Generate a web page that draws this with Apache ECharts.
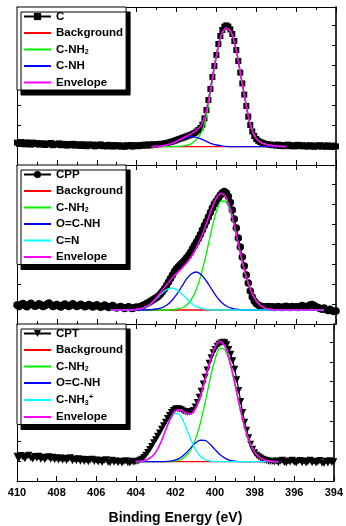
<!DOCTYPE html>
<html>
<head>
<meta charset="utf-8">
<script src="https://cdn.jsdelivr.net/npm/echarts@6/dist/echarts.min.js"></script>
<style>
html,body{margin:0;padding:0;background:#fff;}
#chart{width:346px;height:526px;}
</style>
</head>
<body>
<div id="chart"></div>
<script>
// ---------- x axis ticks ----------
const xTicks = [410, 408, 406, 404, 402, 400, 398, 396, 394];
const xTitle = 'Binding Energy (eV)';

// ---------- measured data (410 -> 394 eV, 0.1 eV steps) ----------
const dataStart = 410, dataStep = 0.1;

const dataC = [
 1.12,1.05,1.15,1.08,1.03,1.13,1.07,1.02,1.12,1.05,
 1.10,1.02,1.09,1.04,1.00,1.08,1.03,1.10,0.99,1.06,
 1.02,1.08,0.99,1.06,1.01,0.97,1.05,0.99,1.06,0.97,
 1.04,0.98,0.95,1.04,0.99,0.94,1.03,0.97,1.02,0.93,
 1.01,0.96,1.03,0.94,0.99,0.93,1.01,0.95,0.92,1.00,
 0.94,0.99,0.92,0.97,0.91,0.99,0.94,1.00,0.92,0.97,
 0.99,0.94,1.00,0.96,1.02,0.97,1.03,0.98,1.04,1.00,
 1.03,1.04,1.06,1.05,1.08,1.10,1.12,1.15,1.18,1.21,
 1.25,1.29,1.32,1.36,1.39,1.43,1.47,1.50,1.55,1.60,
 1.67,1.75,1.85,2.02,2.33,2.75,3.25,3.80,4.40,4.95,
 5.50,6.05,6.45,6.75,6.92,6.98,6.92,6.78,6.55,6.20,
 5.75,5.20,4.62,4.08,3.52,2.95,2.42,2.00,1.68,1.45,
 1.30,1.21,1.15,1.11,1.07,1.05,1.03,1.02,0.99,1.01,
 0.97,1.02,0.95,1.00,0.94,0.99,1.02,0.94,0.99,0.93,
 0.98,1.01,0.94,0.99,0.93,0.98,0.92,0.99,0.95,0.91,
 0.98,0.93,0.99,0.92,0.97,0.91,0.98,0.94,0.90,0.97,
 0.93
];

const dataCPP = [
 0.95,0.88,0.98,1.02,0.92,0.86,0.97,1.04,0.95,0.89,
 0.93,1.01,0.96,0.87,0.91,0.99,1.05,0.96,0.88,0.92,
 0.98,0.90,0.85,0.94,1.00,0.93,0.87,0.95,1.01,0.94,
 0.88,0.92,0.99,0.93,0.86,0.90,0.97,0.92,0.85,0.91,
 0.96,0.89,0.84,0.90,0.95,0.88,0.83,0.87,0.92,0.85,
 0.80,0.84,0.88,0.82,0.78,0.83,0.86,0.80,0.77,0.82,
 0.85,0.83,0.88,0.92,0.96,1.02,1.08,1.14,1.20,1.26,
 1.32,1.40,1.50,1.62,1.76,1.92,2.10,2.28,2.45,2.62,
 2.76,2.88,2.98,3.08,3.18,3.30,3.42,3.58,3.76,3.92,
 4.10,4.28,4.48,4.70,4.92,5.12,5.35,5.58,5.80,6.00,
 6.15,6.30,6.45,6.56,6.62,6.55,6.38,6.08,5.70,5.25,
 4.80,4.30,3.85,3.35,2.90,2.45,2.05,1.65,1.35,1.15,
 1.02,0.95,0.90,0.88,0.86,0.85,0.87,0.84,0.86,0.83,
 0.85,0.88,0.84,0.82,0.86,0.89,0.85,0.83,0.87,0.84,
 0.86,0.83,0.88,0.92,0.87,0.84,0.90,0.95,0.98,0.92,
 0.86,0.82,0.78,0.74,0.80,0.72,0.68,0.74,0.66,0.62,
 0.65
];

const dataCPT = [
 1.25,1.15,1.28,1.19,1.12,1.24,1.29,1.16,1.11,1.23,
 1.14,1.24,1.10,1.20,1.08,1.18,1.22,1.09,1.19,1.07,
 1.17,1.06,1.16,1.04,1.14,1.03,1.12,1.17,1.02,1.11,
 1.02,1.12,0.99,1.09,0.98,1.08,0.97,1.06,1.10,0.98,
 1.06,0.95,1.05,0.93,1.03,1.07,0.94,0.92,1.04,0.94,
 1.01,0.92,0.99,0.91,0.98,1.02,0.92,0.90,0.99,0.94,
 0.98,1.00,1.04,1.10,1.18,1.30,1.44,1.58,1.74,1.92,
 2.08,2.25,2.42,2.60,2.78,2.96,3.14,3.30,3.45,3.55,
 3.62,3.64,3.62,3.58,3.52,3.48,3.46,3.47,3.50,3.55,
 3.72,3.95,4.22,4.52,4.88,5.22,5.58,5.92,6.20,6.45,
 6.62,6.78,6.88,6.95,6.98,6.96,6.85,6.62,6.38,6.05,
 5.62,5.10,4.55,4.00,3.45,2.95,2.55,2.18,1.85,1.60,
 1.42,1.30,1.22,1.16,1.10,1.06,1.03,1.00,0.98,1.00,
 0.95,1.01,0.92,0.99,1.04,0.93,0.91,1.01,0.95,1.05,
 0.94,0.90,0.99,1.03,0.92,1.01,0.91,0.97,1.04,0.92,
 1.00,0.90,0.96,1.03,0.91,0.88,0.99,0.91,1.02,0.93,
 0.97
];

// ---------- fitted curves, panel 1 (C) ----------
const fit1E = [403.25,403.0,402.75,402.5,402.25,402.0,401.75,401.5,401.25,401.0,400.75,400.5,400.25,400.0,
               399.75,399.5,399.25,399.0,398.75,398.5,398.25,398.0,397.75,397.5,397.25,397.0,396.75,396.5];
const bg1E = [403.25, 396.5];
const bg1 = [0.92, 0.92];
const nh2_1 = [0.92,0.92,0.92,0.92,0.92,0.93,0.94,0.98,1.07,1.28,1.63,2.46,3.90,5.37,
               6.49,6.84,6.62,5.72,4.33,2.95,1.85,1.32,1.12,1.03,0.98,0.95,0.93,0.92];
const nh_1  = [0.92,0.93,0.96,1.00,1.07,1.18,1.29,1.38,1.42,1.38,1.29,1.18,1.07,1.00,
               0.96,0.93,0.92,0.92,0.92,0.92,0.92,0.92,0.92,0.92,0.92,0.92,0.92,0.92];
const env1  = [0.92,0.93,0.96,1.00,1.07,1.19,1.31,1.44,1.57,1.74,2.00,2.72,4.05,5.45,
               6.53,6.85,6.62,5.72,4.33,2.95,1.85,1.32,1.12,1.03,0.98,0.95,0.93,0.92];

// ---------- fitted curves, panel 2 (CPP) ----------
const fit2E = [405.3,404.5,404.25,404.0,403.75,403.5,403.25,403.0,402.75,402.5,402.25,402.0,401.75,401.5,
               401.25,401.0,400.75,400.5,400.25,400.0,399.75,399.5,399.25,399.0,398.75,398.5,398.25,398.0,
               397.75,397.5,397.25,397.0,396.5,395.5,394.6];
const bg2E = [405.3, 394.6];
const bg2 = [0.70, 0.70];
const nh2_2 = [0.70,0.70,0.70,0.70,0.70,0.70,0.70,0.70,0.70,0.70,0.71,0.74,0.80,0.94,
               1.23,1.75,2.52,3.54,4.66,5.62,6.15,6.09,5.45,4.44,3.32,2.34,1.62,1.16,
               0.90,0.78,0.73,0.71,0.70,0.70,0.70];
const ocnh_2 = [0.70,0.70,0.70,0.70,0.70,0.71,0.72,0.75,0.81,0.94,1.15,1.47,1.85,2.24,
               2.51,2.60,2.46,2.15,1.76,1.38,1.09,0.90,0.79,0.74,0.71,0.70,0.70,0.70,
               0.70,0.70,0.70,0.70,0.70,0.70,0.70];
const cn_2  = [0.70,0.70,0.71,0.73,0.78,0.87,1.04,1.27,1.52,1.72,1.80,1.72,1.52,1.27,
               1.04,0.87,0.78,0.73,0.71,0.70,0.70,0.70,0.70,0.70,0.70,0.70,0.70,0.70,
               0.70,0.70,0.70,0.70,0.70,0.70,0.70];
const env2  = [0.70,0.70,0.71,0.73,0.78,0.88,1.06,1.32,1.63,1.96,2.26,2.53,2.77,3.05,
               3.38,3.82,4.36,5.02,5.73,6.30,6.54,6.29,5.54,4.48,3.33,2.34,1.62,1.16,
               0.90,0.78,0.73,0.71,0.70,0.70,0.70];

// ---------- fitted curves, panel 3 (CPT) ----------
const fit3E = [404.0,403.75,403.5,403.25,403.0,402.75,402.5,402.25,402.0,401.75,401.5,401.25,401.0,400.75,
               400.5,400.25,400.0,399.75,399.5,399.25,399.0,398.75,398.5,398.25,398.0,397.75,397.5,397.25,
               397.0,396.8];
const bg3E = [404.0, 396.8];
const bg3 = [0.97, 0.97];
const nh2_3 = [0.97,0.97,0.97,0.97,0.97,0.97,0.97,0.98,1.01,1.07,1.23,1.53,2.07,2.88,
               3.95,5.12,6.11,6.67,6.60,5.94,4.89,3.72,2.70,1.94,1.45,1.19,1.06,1.00,
               0.98,0.97];
const ocnh_3 = [0.97,0.97,0.97,0.97,0.97,0.97,0.98,1.00,1.06,1.17,1.37,1.64,1.90,2.05,
               2.04,1.85,1.58,1.33,1.15,1.04,1.00,0.98,0.97,0.97,0.97,0.97,0.97,0.97,
               0.97,0.97];
const nh3_3 = [0.98,0.99,1.04,1.17,1.44,1.91,2.53,3.11,3.41,3.28,2.78,2.15,1.61,1.26,
               1.08,1.00,0.98,0.97,0.97,0.97,0.97,0.97,0.97,0.97,0.97,0.97,0.97,0.97,
               0.97,0.97];
const env3  = [0.98,0.99,1.04,1.17,1.44,1.91,2.54,3.15,3.54,3.58,3.44,3.38,3.64,4.25,
               5.13,6.03,6.73,7.03,6.78,6.01,4.92,3.73,2.70,1.94,1.45,1.19,1.06,1.00,
               0.98,0.97];

// ---------- legend names ----------
const legend1 = ['C', 'Background', 'C-NH2', 'C-NH', 'Envelope'];
const legend2 = ['CPP', 'Background', 'C-NH2', 'O=C-NH', 'C=N', 'Envelope'];
const legend3 = ['CPT', 'Background', 'C-NH2', 'O=C-NH', 'C-NH3+', 'Envelope'];
const dataNames = ['C', 'CPP', 'CPT'];

// ================= build =================
const FONT = "'Liberation Sans', Arial, Helvetica, sans-serif";
const toPairs = (xs, ys) => xs.map((x, i) => [x, ys[i]]);
const measured = ys => ys.map((y, i) => [+(dataStart - i * dataStep).toFixed(1), y]);

const grids = [
  {left: 17, width: 319, top: 7, height: 158},
  {left: 17, width: 319, top: 165, height: 159},
  {left: 17, width: 319, top: 324, height: 158}
];
const yMax = [7.9, 7.95, 7.9];

const xAxes = [], yAxes = [];
grids.forEach((g, gi) => {
  const base = {
    type: 'value', gridIndex: gi, min: 394, max: 410, interval: 2, inverse: true,
    axisLine: {show: true, onZero: false, lineStyle: {color: '#000', width: 1}},
    axisTick: {show: true, inside: true, length: 5, lineStyle: {color: '#000', width: 1}},
    minorTick: {show: true, splitNumber: 2, length: 3, lineStyle: {color: '#000', width: 1}},
    splitLine: {show: false}, minorSplitLine: {show: false}
  };
  xAxes.push(Object.assign({}, base, {
    position: 'bottom',
    axisLabel: {show: gi === 2, margin: 6, color: '#000', fontFamily: FONT, fontWeight: 'bold', fontSize: 11},
    name: gi === 2 ? xTitle : '', nameLocation: 'middle', nameGap: 30,
    nameTextStyle: {color: '#000', fontFamily: FONT, fontWeight: 'bold', fontSize: 14}
  }));
  xAxes.push(Object.assign({}, base, {position: 'top', axisLabel: {show: false}}));
  const ybase = {
    type: 'value', gridIndex: gi, min: 0, max: yMax[gi], interval: 1,
    axisTick: {show: true, inside: true, length: 4, lineStyle: {color: '#000', width: 1}},
    axisLabel: {show: false}, splitLine: {show: false}
  };
  yAxes.push(Object.assign({}, ybase, {position: 'left',
    axisLine: {show: true, onZero: false, lineStyle: {color: '#000', width: 1}}}));
  yAxes.push(Object.assign({}, ybase, {position: 'right',
    axisLine: {show: true, onZero: false, lineStyle: {color: '#333', width: 2}}}));
});

const colors = {
  'Background': '#ff0000', 'C-NH2': '#00f000', 'C-NH': '#0000ff', 'O=C-NH': '#0000ff',
  'C=N': '#00ffff', 'C-NH3+': '#00ffff', 'Envelope': '#ff00ff'
};

function fitSeries(name, gi, xs, ys) {
  return {
    name: name, type: 'line', xAxisIndex: gi * 2, yAxisIndex: gi * 2,
    data: toPairs(xs, ys), showSymbol: false, symbol: 'none', smooth: 0.3,
    lineStyle: {color: colors[name], width: name === 'Envelope' ? 1.6 : 1.3},
    itemStyle: {color: colors[name]}, z: 3, silent: true
  };
}
function dataSeries(name, gi, ys, symbol, size, rotate) {
  return {
    name: name, type: 'line', xAxisIndex: gi * 2, yAxisIndex: gi * 2,
    data: measured(ys), symbol: symbol, symbolSize: size, symbolRotate: rotate || 0,
    showSymbol: true, lineStyle: {color: '#000', width: 1.2},
    itemStyle: {color: '#000', borderWidth: 0}, z: 2, silent: true
  };
}

const series = [
  dataSeries('C', 0, dataC, 'rect', 6),
  fitSeries('Background', 0, bg1E, bg1),
  fitSeries('C-NH2', 0, fit1E, nh2_1),
  fitSeries('C-NH', 0, fit1E, nh_1),
  fitSeries('Envelope', 0, fit1E, env1),

  dataSeries('CPP', 1, dataCPP, 'circle', 7.5),
  fitSeries('Background', 1, bg2E, bg2),
  fitSeries('C-NH2', 1, fit2E, nh2_2),
  fitSeries('O=C-NH', 1, fit2E, ocnh_2),
  fitSeries('C=N', 1, fit2E, cn_2),
  fitSeries('Envelope', 1, fit2E, env2),

  dataSeries('CPT', 2, dataCPT, 'triangle', 7, 180),
  fitSeries('Background', 2, bg3E, bg3),
  fitSeries('C-NH2', 2, fit3E, nh2_3),
  fitSeries('O=C-NH', 2, fit3E, ocnh_3),
  fitSeries('C-NH3+', 2, fit3E, nh3_3),
  fitSeries('Envelope', 2, fit3E, env3)
];

function fmt(name) {
  if (name === 'C-NH2') return 'C-NH{s|2}';
  if (name === 'C-NH3+') return 'C-NH{s|3}{p|+}';
  return name;
}
const LINE_ICON = 'path://M0,0H27V2H0Z';
function makeLegend(names, top) {
  return {
    data: names.map(n => dataNames.indexOf(n) >= 0 ? {name: n} : {name: n, icon: LINE_ICON}),
    orient: 'vertical', left: 17, top: top,
    itemWidth: 27, itemHeight: 9, itemGap: 3.5,
    padding: [3, 3, 1, 6],
    backgroundColor: '#fff', borderColor: '#000', borderWidth: 1,
    shadowColor: '#000', shadowBlur: 0, shadowOffsetX: 4, shadowOffsetY: 5,
    selectedMode: false, formatter: fmt,
    textStyle: {
      color: '#000', fontFamily: FONT, fontWeight: 'bold', fontSize: 11.5, lineHeight: 13,
      rich: {
        s: {fontSize: 7, fontWeight: 'bold', fontFamily: FONT, color: '#000', lineHeight: 8, padding: [6, 0, 0, 0]},
        p: {fontSize: 8, fontWeight: 'bold', fontFamily: FONT, color: '#000', lineHeight: 8, padding: [0, 0, 6, 0]}
      }
    }
  };
}

const option = {
  animation: false,
  backgroundColor: '#fff',
  grid: grids,
  xAxis: xAxes,
  yAxis: yAxes,
  legend: [makeLegend(legend1, 7), makeLegend(legend2, 165), makeLegend(legend3, 324)],
  series: series
};

const chart = echarts.init(document.getElementById('chart'), null, {renderer: 'canvas'});
chart.setOption(option);
</script>
</body>
</html>
